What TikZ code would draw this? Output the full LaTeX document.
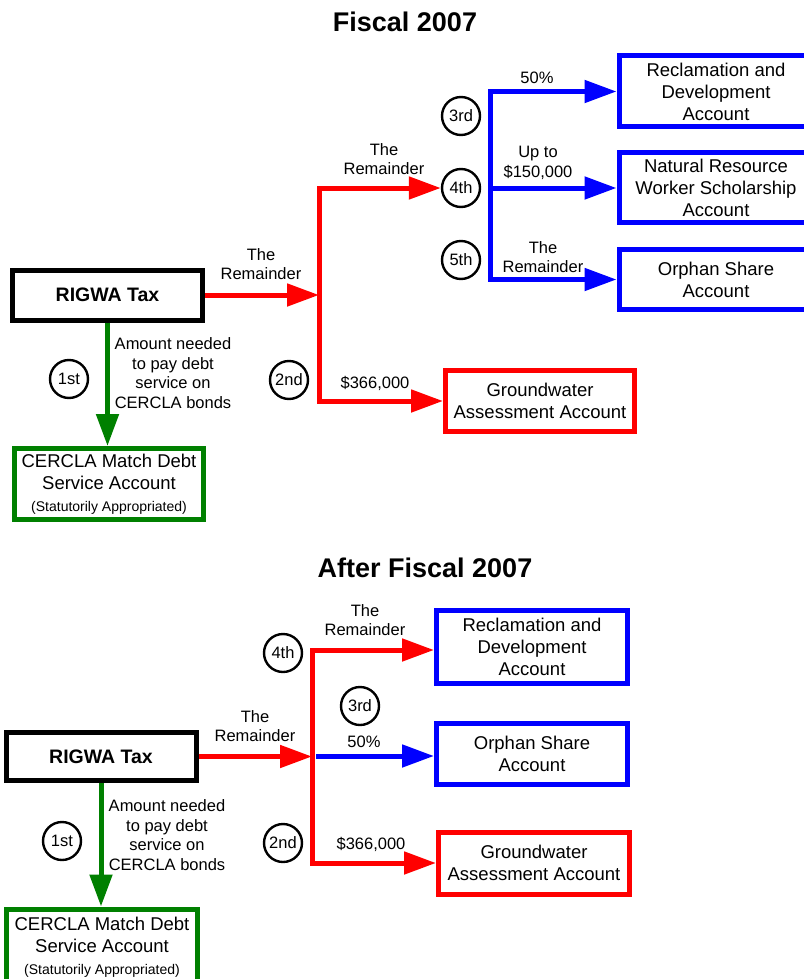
\documentclass[tikz,border=0pt]{standalone}
\usepackage{fontspec}
\setmainfont{Liberation Sans}
\usetikzlibrary{arrows.meta}
\definecolor{fgreen}{RGB}{0,128,0}
\definecolor{fred}{RGB}{255,0,0}
\definecolor{fblue}{RGB}{0,0,255}

\begin{document}
\begin{tikzpicture}[x=1pt,y=-1pt,
			acct/.style={draw,line width=5pt,align=center,inner sep=0pt,font=\fontsize{18.5}{22}\selectfont},
			taxbox/.style={acct,font=\bfseries\fontsize{19.5}{22}\selectfont},
			order/.style={draw,circle,line width=2.4pt,minimum size=38pt,inner sep=0pt,font=\fontsize{16.5}{18}\selectfont},
			lbl/.style={align=center,inner sep=0pt,font=\fontsize{16.5}{19.5}\selectfont},
			ttl/.style={font=\bfseries\fontsize{27}{30}\selectfont},
			flow/.style={line width=5pt,-{Triangle[length=32pt,width=22pt]}},
			both/.style={line width=5pt,{Triangle[length=32pt,width=22pt]}-{Triangle[length=32pt,width=22pt]}}]
			\useasboundingbox (0,0) rectangle (803,979);

			\node[ttl] (titleA) at (405,22) {Fiscal 2007};
			\node[taxbox,minimum width=190pt,minimum height=50pt] (rigA) at (107.5,295) {RIGWA Tax};
			\node[acct,fgreen,text=black,minimum width=189pt,minimum height=71pt] (cerA) at (109,484) {CERCLA Match Debt\\Service Account\\{\fontsize{14}{16}\selectfont (Statutorily Appropriated)}};
			\node[acct,fred,text=black,minimum width=189pt,minimum height=61pt] (gwA) at (540,401) {Groundwater\\Assessment Account};
			\node[acct,fblue,text=black,minimum width=194pt,minimum height=71pt] (recA) at (716,91.5) {Reclamation and\\Development\\Account};
			\node[acct,fblue,text=black,minimum width=194pt,minimum height=70pt] (nrA) at (716,187.5) {Natural Resource\\Worker Scholarship\\Account};
			\node[acct,fblue,text=black,minimum width=194pt,minimum height=60pt] (orA) at (716,279.5) {Orphan Share\\Account};

			\node[order] (c1A) at (69,379) {1st};
			\node[order] (c2A) at (289,380) {2nd};
			\node[order] (c3A) at (461,116) {3rd};
			\node[order] (c4A) at (461,188) {4th};
			\node[order] (c5A) at (461,260) {5th};

			\coordinate (jA) at (319,295);
			\coordinate (jB) at (490,188);
			\draw[flow,fgreen] (rigA.south) -- (rigA.south |- cerA.north);
			\draw[flow,fred] (rigA.east) -- (rigA.east -| jA);
			\draw[both,fred] (c4A.west) -- (jA |- c4A) -- (jA |- gwA) -- (gwA.west);
			\draw[both,fblue] (recA.west) -- (jB |- recA) -- (jB |- orA) -- (orA.west);
			\draw[flow,fblue] (jB) -- (jB -| nrA.west);

			\node[lbl] (remA1) at (261,264) {The\\Remainder};
			\node[lbl] (remA2) at (384,159) {The\\Remainder};
			\node[lbl] (pctA) at (537,78) {50\%};
			\node[lbl] (upA) at (538,163) {Up to\\\$150,000};
			\node[lbl] (remA3) at (543,257) {The\\Remainder};
			\node[lbl] (amtA) at (173,373) {Amount needed\\to pay debt\\service on\\CERCLA bonds};
			\node[lbl] (valA) at (375,383) {\$366,000};

			\node[ttl] (titleB) at (425,568) {After Fiscal 2007};
			\node[taxbox,minimum width=190pt,minimum height=48.5pt] (rigB) at (101,756.5) {RIGWA Tax};
			\node[acct,fgreen,text=black,minimum width=191pt,minimum height=76pt] (cerB) at (102,947) {CERCLA Match Debt\\Service Account\\{\fontsize{14}{16}\selectfont (Statutorily Appropriated)}};
			\node[acct,fblue,text=black,minimum width=191pt,minimum height=73pt] (recB) at (532,647) {Reclamation and\\Development\\Account};
			\node[acct,fblue,text=black,minimum width=191pt,minimum height=61pt] (orB) at (532,754) {Orphan Share\\Account};
			\node[acct,fred,text=black,minimum width=191pt,minimum height=62pt] (gwB) at (534,863) {Groundwater\\Assessment Account};

			\node[order] (c1B) at (62,841) {1st};
			\node[order] (c2B) at (283,843) {2nd};
			\node[order] (c3B) at (360,706) {3rd};
			\node[order] (c4B) at (283,653) {4th};

			\coordinate (jC) at (312,756);
			\coordinate (jCtop) at (312,650);
			\coordinate (jCbot) at (312,863);
			\coordinate (jCmid) at (316,756);
			\draw[flow,fgreen] (rigB.south) -- (rigB.south |- cerB.north);
			\draw[flow,fred] (rigB.east) -- (rigB.east -| jC);
			\draw[both,fred] (jCtop -| recB.west) -- (jCtop) -- (jCbot) -- (jCbot -| gwB.west);
			\draw[flow,fblue] (jCmid) -- (jCmid -| orB.west);

			\node[lbl] (remB1) at (255,726) {The\\Remainder};
			\node[lbl] (remB2) at (365,620) {The\\Remainder};
			\node[lbl] (pctB) at (364,742) {50\%};
			\node[lbl] (amtB) at (167,835) {Amount needed\\to pay debt\\service on\\CERCLA bonds};
			\node[lbl] (valB) at (371,844) {\$366,000};
		\end{tikzpicture}
\end{document}
